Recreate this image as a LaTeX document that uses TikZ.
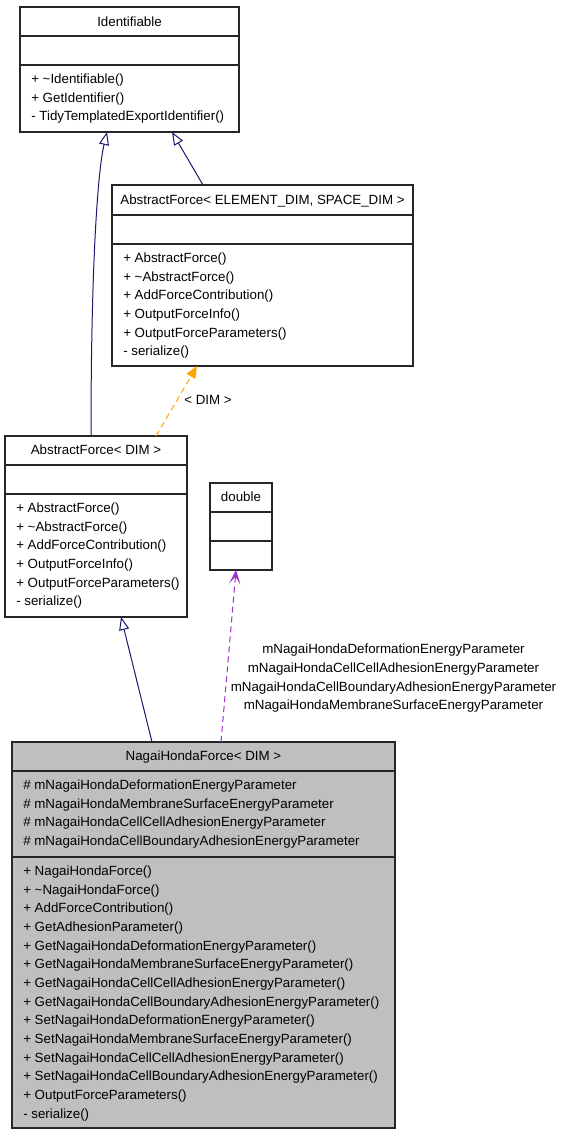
\documentclass[tikz,border=0pt]{standalone}
\usepackage{fontspec}
\setmainfont{Liberation Sans}
\usetikzlibrary{calc,arrows.meta}
\definecolor{inheritblue}{RGB}{25,25,112}
\definecolor{tmplorange}{RGB}{255,165,0}
\definecolor{usagepurple}{RGB}{153,50,204}
\definecolor{classgray}{RGB}{191,191,191}
\tikzset{
	classbox/.style={draw=black!85, line width=0.9pt, anchor=north west, inner sep=0, outer sep=0},
	classtitle/.style={anchor=base, inner sep=0, font=\fontsize{10}{14}\selectfont},
	members/.style={anchor=north west, align=left, inner sep=0, font=\fontsize{10}{14}\selectfont},
	edgelabel/.style={align=center, inner sep=0, font=\fontsize{10}{14}\selectfont},
	inherit/.style={draw=inheritblue, line width=0.75pt, -{Triangle[open,length=9.75pt,width=7.5pt]}},
	tmpl/.style={draw=tmplorange, line width=0.75pt, dash pattern=on 4.5pt off 3pt, -{Triangle[length=9pt,width=7.5pt]}},
	usage/.style={draw=usagepurple, line width=0.75pt, dash pattern=on 4.5pt off 3pt, -{Stealth[length=10.5pt,width=8.5pt,inset=5.5pt]}}
}
\def\classbox[#1](#2)(#3,#4:#5:#6:#7:#8){%
	\node[classbox,#1,minimum width=#5*0.75pt,minimum height=#6*0.75pt] (#2) at (#3,#4) {};
	\draw[draw=black!85, line width=0.9pt] ($(#2.north west)+(0,#7)$) -- ++(#5,0);
	\draw[draw=black!85, line width=0.9pt] ($(#2.north west)+(0,#8)$) -- ++(#5,0);}

\begin{document}
\begin{tikzpicture}[x=0.75pt, y=-0.75pt]
		%%%%% START %%%%%
		\useasboundingbox (0,0) rectangle (564,1136);
		
		\classbox[](ident)(20,7:219:125:29:58)
		\node[classtitle] (ident-t) at (129.5,26) {Identifiable};
		\node[members] (ident-m) at (31,70) {\strut+ \textasciitilde Identifiable()\\+ GetIdentifier()\\- TidyTemplatedExportIdentifier()};
		
		\classbox[](afes)(112,185:301:181:30:59)
		\node[classtitle] (afes-t) at (262.5,204) {AbstractForce< ELEMENT\_DIM, SPACE\_DIM >};
		\node[members] (afes-m) at (123,249) {\strut+ AbstractForce()\\+ \textasciitilde AbstractForce()\\+ AddForceContribution()\\+ OutputForceInfo()\\+ OutputForceParameters()\\- serialize()};
		
		\classbox[](afdim)(5,436:182:181:29:58)
		\node[classtitle] (afdim-t) at (96,454) {AbstractForce< DIM >};
		\node[members] (afdim-m) at (16,499) {\strut+ AbstractForce()\\+ \textasciitilde AbstractForce()\\+ AddForceContribution()\\+ OutputForceInfo()\\+ OutputForceParameters()\\- serialize()};
		
		\classbox[](dbl)(210,483:62:87:29:58)
		\node[classtitle] (dbl-t) at (241,501) {double};
		
		\classbox[fill=classgray](nhf)(12,742:383:386:29:115)
		\node[classtitle] (nhf-t) at (203.5,760.5) {NagaiHondaForce< DIM >};
		\node[members] (nhf-a) at (23,776) {\strut\# mNagaiHondaDeformationEnergyParameter\\\# mNagaiHondaMembraneSurfaceEnergyParameter\\\# mNagaiHondaCellCellAdhesionEnergyParameter\\\# mNagaiHondaCellBoundaryAdhesionEnergyParameter};
		\node[members] (nhf-m) at (23,862) {\strut+ NagaiHondaForce()\\+ \textasciitilde NagaiHondaForce()\\+ AddForceContribution()\\+ GetAdhesionParameter()\\+ GetNagaiHondaDeformationEnergyParameter()\\+ GetNagaiHondaMembraneSurfaceEnergyParameter()\\+ GetNagaiHondaCellCellAdhesionEnergyParameter()\\+ GetNagaiHondaCellBoundaryAdhesionEnergyParameter()\\+ SetNagaiHondaDeformationEnergyParameter()\\+ SetNagaiHondaMembraneSurfaceEnergyParameter()\\+ SetNagaiHondaCellCellAdhesionEnergyParameter()\\+ SetNagaiHondaCellBoundaryAdhesionEnergyParameter()\\+ OutputForceParameters()\\- serialize()};
		
		\draw[inherit] ($(afdim.north west)+(86,0)$) .. controls (91,260) and (98,170) .. ($(ident.south west)+(87,0)$);
		\draw[inherit] ($(afes.north west)+(91,0)$) -- ($(ident.south west)+(152,0)$);
		
		\draw[tmpl] ($(afdim.north west)+(151,0)$) -- ($(afes.south west)+(85,0)$);
		\node[edgelabel] (dimlbl) at (208,400) {< DIM >};
		
		\draw[inherit] ($(nhf.north west)+(140,0)$) -- ($(afdim.south west)+(116,0)$);
		\draw[usage] ($(nhf.north west)+(209,0)$) -- ($(dbl.south west)+(26,0)$);
		\node[edgelabel] (paramlbl) at (393.5,678.5) {mNagaiHondaDeformationEnergyParameter\\mNagaiHondaCellCellAdhesionEnergyParameter\\mNagaiHondaCellBoundaryAdhesionEnergyParameter\\mNagaiHondaMembraneSurfaceEnergyParameter};
		
		%%%%% END %%%%%
	\end{tikzpicture}
\end{document}
